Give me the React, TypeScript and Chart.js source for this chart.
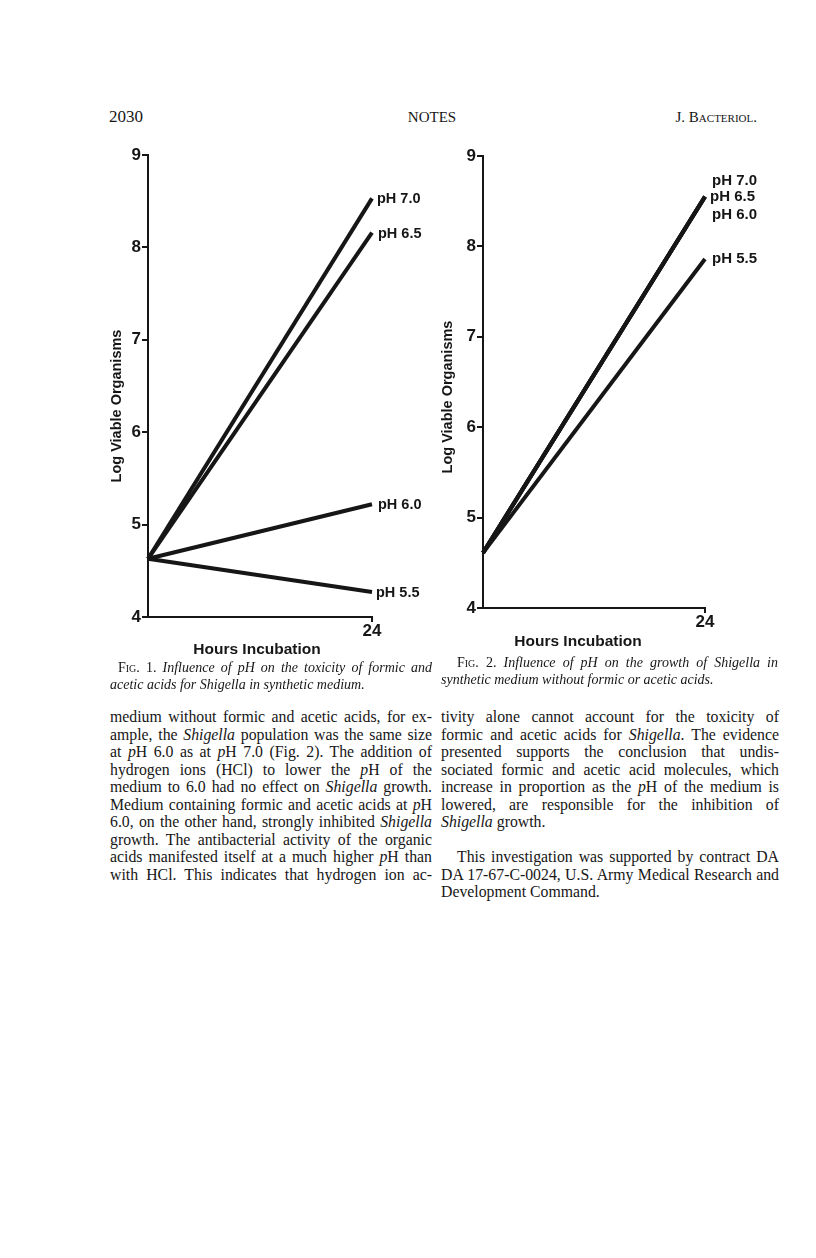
import React, { useEffect, useRef } from "react";
import { Chart, registerables } from "chart.js";

Chart.register(...registerables);

// ---------------- data ----------------
const hours = [0, 24];
const yTickValues = [4, 5, 6, 7, 8, 9];
const xTickShown = 24;
const seriesLabels = ["pH 7.0", "pH 6.5", "pH 6.0", "pH 5.5"];

const fig1PH70 = [4.63, 8.53];
const fig1PH65 = [4.63, 8.16];
const fig1PH60 = [4.63, 5.22];
const fig1PH55 = [4.63, 4.27];

const fig2PH70 = [4.61, 8.55];
const fig2PH65 = [4.61, 8.55];
const fig2PH60 = [4.61, 8.55];
const fig2PH55 = [4.61, 7.86];

const yTitleText = "Log Viable Organisms";
const xTitleText = "Hours Incubation";

// ---------------- style ----------------
const INK = "#161616";
const SANS = "'Liberation Sans', Arial, Helvetica, sans-serif";
const SERIF = "'Liberation Serif', 'Times New Roman', serif";

const textPlugin = {
  id: "pageText",
  afterDraw(chart: any, _args: any, opts: any) {
    const { ctx, chartArea } = chart;
    ctx.save();
    ctx.fillStyle = INK;
    ctx.font = `bold ${opts.labelSize}px ${SANS}`;
    ctx.textAlign = "left";
    ctx.textBaseline = "middle";
    chart.data.datasets.forEach((ds: any, i: number) => {
      const meta = chart.getDatasetMeta(i);
      const pt = meta.data[meta.data.length - 1];
      if (!pt) return;
      const off = opts.labelOffsets[i] || [6, 0];
      ctx.fillText(ds.label, pt.x + off[0], pt.y + off[1]);
    });
    ctx.textAlign = "center";
    ctx.font = `bold ${opts.yTitleSize}px ${SANS}`;
    ctx.save();
    ctx.translate(opts.yTitleX, (chartArea.top + chartArea.bottom) / 2 + opts.yTitleDy);
    ctx.rotate(-Math.PI / 2);
    ctx.fillText(yTitleText, 0, 0);
    ctx.restore();
    ctx.font = `bold ${opts.xTitleSize}px ${SANS}`;
    ctx.fillText(
      xTitleText,
      (chartArea.left + chartArea.right) / 2 + opts.xTitleDx,
      chartArea.bottom + opts.xTitleDy
    );
    ctx.restore();
  },
};

type PanelLayout = {
  padTop: number;
  padRight: number;
  yAxisW: number;
  xAxisH: number;
  labelSize: number;
  labelOffsets: number[][];
  yTitleX: number;
  yTitleDy: number;
  xTitleDx: number;
  xTitleDy: number;
};

function buildConfig(series: number[][], p: PanelLayout): any {
  const tickFont = { family: SANS, size: 17, weight: "bold" as const };
  return {
    type: "line",
    data: {
      datasets: series.map((vals, i) => ({
        label: seriesLabels[i],
        data: hours.map((h, j) => ({ x: h, y: vals[j] })),
        borderColor: INK,
        borderWidth: 4,
        pointRadius: 0,
        tension: 0,
        fill: false,
        clip: false,
        borderCapStyle: "butt",
      })),
    },
    options: {
      responsive: false,
      animation: false,
      devicePixelRatio: 1,
      layout: { padding: { top: p.padTop, right: p.padRight, left: 0, bottom: 0 } },
      plugins: {
        legend: { display: false },
        tooltip: { enabled: false },
        pageText: {
          labelSize: p.labelSize,
          labelOffsets: p.labelOffsets,
          yTitleSize: 14.5,
          xTitleSize: 15.5,
          yTitleX: p.yTitleX,
          yTitleDy: p.yTitleDy,
          xTitleDx: p.xTitleDx,
          xTitleDy: p.xTitleDy,
        },
      },
      scales: {
        x: {
          type: "linear",
          min: hours[0],
          max: hours[hours.length - 1],
          afterBuildTicks: (s: any) => {
            s.ticks = hours.map((v) => ({ value: v }));
          },
          ticks: {
            callback: (v: any) => (v === xTickShown ? String(xTickShown) : ""),
            font: tickFont,
            color: INK,
            padding: -1,
            maxRotation: 0,
            autoSkip: false,
          },
          grid: {
            drawOnChartArea: false,
            drawTicks: true,
            tickLength: 5,
            lineWidth: 2,
            color: (ctx: any) =>
              ctx.tick && ctx.tick.value === xTickShown ? INK : "rgba(0,0,0,0)",
          },
          border: { display: true, color: INK, width: 2 },
          afterFit: (s: any) => {
            s.height = p.xAxisH;
          },
        },
        y: {
          type: "linear",
          min: yTickValues[0],
          max: yTickValues[yTickValues.length - 1],
          afterBuildTicks: (s: any) => {
            s.ticks = yTickValues.map((v) => ({ value: v }));
          },
          ticks: { font: tickFont, color: INK, padding: 1 },
          grid: {
            drawOnChartArea: false,
            drawTicks: true,
            tickLength: 6,
            lineWidth: 2,
            color: INK,
          },
          border: { display: true, color: INK, width: 2 },
          afterFit: (s: any) => {
            s.width = p.yAxisW;
          },
        },
      },
    },
    plugins: [textPlugin],
  };
}

function Panel(props: {
  left: number;
  top: number;
  width: number;
  height: number;
  series: number[][];
  layout: PanelLayout;
}) {
  const ref = useRef<HTMLCanvasElement>(null);
  useEffect(() => {
    const chart = new Chart(ref.current as HTMLCanvasElement, buildConfig(props.series, props.layout));
    return () => chart.destroy();
  }, []);
  return (
    <canvas
      ref={ref}
      width={props.width}
      height={props.height}
      style={{ position: "absolute", left: props.left, top: props.top, width: props.width, height: props.height }}
    />
  );
}

const fig1Layout: PanelLayout = {
  padTop: 15,
  padRight: 68,
  yAxisW: 48,
  xAxisH: 53,
  labelSize: 14.5,
  labelOffsets: [
    [5, 1],
    [6, 1],
    [6, 1],
    [4, 1],
  ],
  yTitleX: 17,
  yTitleDy: 20,
  xTitleDx: -3,
  xTitleDy: 33,
};

const fig2Layout: PanelLayout = {
  padTop: 16,
  padRight: 95,
  yAxisW: 53,
  xAxisH: 52,
  labelSize: 15,
  labelOffsets: [
    [7, -16],
    [5, 0],
    [7, 18],
    [7, 0],
  ],
  yTitleX: 18,
  yTitleDy: 15,
  xTitleDx: -16,
  xTitleDy: 34,
};

const bodyFont: React.CSSProperties = {
  fontFamily: SERIF,
  fontSize: 15.8,
  color: INK,
};

const LH = 17.5;

function Line(props: { children: React.ReactNode; last?: boolean; indent?: number }) {
  return (
    <div
      style={{
        height: LH,
        lineHeight: `${LH}px`,
        textAlign: props.last ? "left" : "justify",
        textAlignLast: props.last ? "left" : "justify",
        paddingLeft: props.indent || 0,
      }}
    >
      {props.children}
    </div>
  );
}

export default function App() {
  return (
    <div
      style={{
        position: "absolute",
        left: 0,
        top: 0,
        width: 816,
        height: 1258,
        background: "#fff",
        overflow: "hidden",
      }}
    >
      {/* running head */}
      <div style={{ position: "absolute", left: 109, top: 106, fontFamily: SERIF, fontSize: 17, color: INK, lineHeight: "22px" }}>
        2030
      </div>
      <div
        style={{
          position: "absolute",
          left: 332,
          top: 107,
          width: 200,
          textAlign: "center",
          fontFamily: SERIF,
          fontSize: 15,
          color: INK,
          lineHeight: "20px",
        }}
      >
        NOTES
      </div>
      <div
        style={{
          position: "absolute",
          left: 557,
          top: 107,
          width: 200,
          textAlign: "right",
          fontFamily: SERIF,
          fontSize: 15,
          color: INK,
          lineHeight: "20px",
        }}
      >
        J. <span style={{ fontVariant: "small-caps" }}>Bacteriol.</span>
      </div>

      {/* figures */}
      <Panel left={100} top={140} width={340} height={530} series={[fig1PH70, fig1PH65, fig1PH60, fig1PH55]} layout={fig1Layout} />
      <Panel left={430} top={140} width={370} height={520} series={[fig2PH70, fig2PH65, fig2PH60, fig2PH55]} layout={fig2Layout} />

      {/* captions */}
      <div style={{ position: "absolute", left: 110, top: 659, width: 322, fontFamily: SERIF, fontSize: 14, color: INK, lineHeight: "17px" }}>
        <div style={{ paddingLeft: 8, textAlign: "justify", textAlignLast: "justify" }}>
          <span style={{ fontVariant: "small-caps" }}>Fig.</span> 1. <i>Influence of pH on the toxicity of formic and</i>
        </div>
        <div>
          <i>acetic acids for Shigella in synthetic medium.</i>
        </div>
      </div>
      <div style={{ position: "absolute", left: 441, top: 654, width: 337, fontFamily: SERIF, fontSize: 14, color: INK, lineHeight: "17px" }}>
        <div style={{ paddingLeft: 16, textAlign: "justify", textAlignLast: "justify" }}>
          <span style={{ fontVariant: "small-caps" }}>Fig.</span> 2. <i>Influence of pH on the growth of Shigella in</i>
        </div>
        <div>
          <i>synthetic medium without formic or acetic acids.</i>
        </div>
      </div>

      {/* left column text */}
      <div style={{ ...bodyFont, position: "absolute", left: 110, top: 708, width: 322 }}>
        <Line>medium without formic and acetic acids, for ex-</Line>
        <Line>
          ample, the <i>Shigella</i> population was the same size
        </Line>
        <Line>
          at <i>p</i>H 6.0 as at <i>p</i>H 7.0 (Fig. 2). The addition of
        </Line>
        <Line>
          hydrogen ions (HCl) to lower the <i>p</i>H of the
        </Line>
        <Line>
          medium to 6.0 had no effect on <i>Shigella</i> growth.
        </Line>
        <Line>
          Medium containing formic and acetic acids at <i>p</i>H
        </Line>
        <Line>
          6.0, on the other hand, strongly inhibited <i>Shigella</i>
        </Line>
        <Line>growth. The antibacterial activity of the organic</Line>
        <Line>
          acids manifested itself at a much higher <i>p</i>H than
        </Line>
        <Line>with HCl. This indicates that hydrogen ion ac-</Line>
      </div>

      {/* right column text */}
      <div style={{ ...bodyFont, position: "absolute", left: 441, top: 708, width: 338 }}>
        <Line>tivity alone cannot account for the toxicity of</Line>
        <Line>
          formic and acetic acids for <i>Shigella</i>. The evidence
        </Line>
        <Line>presented supports the conclusion that undis-</Line>
        <Line>sociated formic and acetic acid molecules, which</Line>
        <Line>
          increase in proportion as the <i>p</i>H of the medium is
        </Line>
        <Line>lowered, are responsible for the inhibition of</Line>
        <Line last>
          <i>Shigella</i> growth.
        </Line>
      </div>
      <div style={{ ...bodyFont, position: "absolute", left: 441, top: 848, width: 338 }}>
        <Line indent={16}>This investigation was supported by contract DA</Line>
        <Line>DA 17-67-C-0024, U.S. Army Medical Research and</Line>
        <Line last>Development Command.</Line>
      </div>
    </div>
  );
}
